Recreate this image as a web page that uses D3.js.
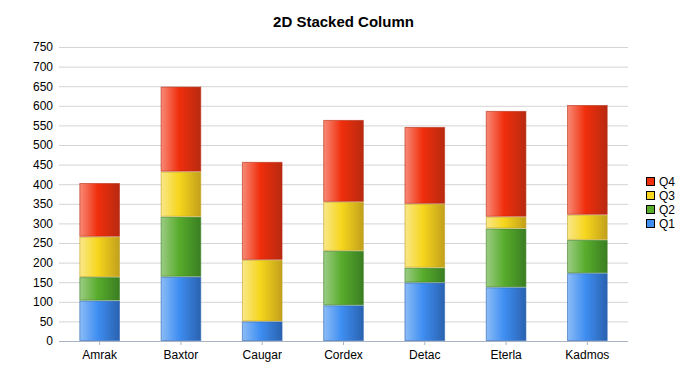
<!DOCTYPE html>
<html>
<head>
<meta charset="utf-8">
<script src="https://cdn.jsdelivr.net/npm/d3@7"></script>
<style>
  body { margin: 0; background: #fff; }
  svg { font-family: "Liberation Sans", Arial, sans-serif; }
</style>
</head>
<body>
<svg id="chart" width="700" height="375"></svg>
<script>
// chart data
const categories = ['Amrak', 'Baxtor', 'Caugar', 'Cordex', 'Detac', 'Eterla', 'Kadmos'];
const seriesNames = ['Q1', 'Q2', 'Q3', 'Q4'];
const q1 = [103, 164, 50, 91, 149, 137, 173];
const q2 = [60, 153, 0, 139, 38, 150, 85];
const q3 = [103, 115, 157, 125, 163, 30, 64];
const q4 = [137, 217, 250, 209, 196, 270, 280];
const yTicks = d3.range(0, 751, 50);

// light / base / dark per series
const palette = {
  Q1: ['#8cbcf6', '#3e8ef2', '#2a62b0'],
  Q2: ['#9ccc84', '#58ac2c', '#3a7e22'],
  Q3: ['#f9e78a', '#f6d61c', '#c2a01c'],
  Q4: ['#f88a76', '#f02e0c', '#b82a10']
};

const rows = categories.map((c, i) => ({ cat: c, Q1: q1[i], Q2: q2[i], Q3: q3[i], Q4: q4[i] }));
const stacked = d3.stack().keys(seriesNames)(rows);

const svg = d3.select('#chart');
const margin = { left: 59, right: 72, top: 47, bottom: 34 };
const width = 700, height = 375;

const x = d3.scaleBand()
  .domain(categories)
  .range([margin.left, width - margin.right])
  .paddingInner(0.5)
  .paddingOuter(0.25);

const y = d3.scaleLinear()
  .domain([0, 750])
  .range([height - margin.bottom, margin.top]);

// gradients
const defs = svg.append('defs');
seriesNames.forEach(s => {
  const g = defs.append('linearGradient')
    .attr('id', 'grad-' + s)
    .attr('x1', '0%').attr('x2', '100%').attr('y1', '0%').attr('y2', '0%');
  g.append('stop').attr('offset', '0%').attr('stop-color', palette[s][0]);
  g.append('stop').attr('offset', '45%').attr('stop-color', palette[s][1]);
  g.append('stop').attr('offset', '100%').attr('stop-color', palette[s][2]);
});

// title
svg.append('text')
  .attr('x', (margin.left + width - margin.right) / 2)
  .attr('y', 27)
  .attr('text-anchor', 'middle')
  .attr('font-size', 15)
  .attr('font-weight', 'bold')
  .text('2D Stacked Column');

// gridlines + y labels
const yAxis = d3.axisLeft(y)
  .tickValues(yTicks)
  .tickSize(-(width - margin.left - margin.right))
  .tickPadding(6);

svg.append('g')
  .attr('transform', `translate(${margin.left},0)`)
  .call(yAxis)
  .call(g => g.select('.domain').remove())
  .call(g => g.selectAll('.tick line').attr('stroke', '#d4d4d4').attr('stroke-width', 1))
  .call(g => g.selectAll('.tick text').attr('font-size', 12).attr('fill', '#000')
    .attr('font-family', '"Liberation Sans", Arial, sans-serif'));

// bars
const layer = svg.append('g')
  .selectAll('g')
  .data(stacked)
  .join('g')
  .attr('fill', d => `url(#grad-${d.key})`)
  .attr('stroke', d => palette[d.key][2])
  .attr('stroke-opacity', 0.6);

layer.selectAll('rect')
  .data(d => d.filter(p => p[1] - p[0] > 0))
  .join('rect')
  .attr('x', p => x(p.data.cat) + 0.5)
  .attr('y', p => y(p[1]) + 0.5)
  .attr('width', x.bandwidth() - 1)
  .attr('height', p => Math.max(0, y(p[0]) - y(p[1]) - 1));

// x axis
const xAxis = d3.axisBottom(x).tickSize(4).tickPadding(5);
svg.append('g')
  .attr('transform', `translate(0,${height - margin.bottom})`)
  .call(xAxis)
  .call(g => g.select('.domain').attr('stroke', '#a8b4c4').attr('d', `M${margin.left},0.5H${width - margin.right}`))
  .call(g => g.selectAll('.tick line').attr('stroke', '#a8b4c4'))
  .call(g => g.selectAll('.tick text').attr('font-size', 12).attr('fill', '#000')
    .attr('font-family', '"Liberation Sans", Arial, sans-serif'));

// legend
const legend = svg.append('g')
  .attr('transform', 'translate(646,177)');
const legendOrder = seriesNames.slice().reverse();
const item = legend.selectAll('g')
  .data(legendOrder)
  .join('g')
  .attr('transform', (d, i) => `translate(0,${i * 14})`);
item.append('rect')
  .attr('width', 8).attr('height', 8)
  .attr('x', 0.5).attr('y', 0.5)
  .attr('fill', d => palette[d][1])
  .attr('stroke', '#000');
item.append('text')
  .attr('x', 13)
  .attr('y', 9)
  .attr('font-size', 12)
  .text(d => d);
</script>
</body>
</html>
